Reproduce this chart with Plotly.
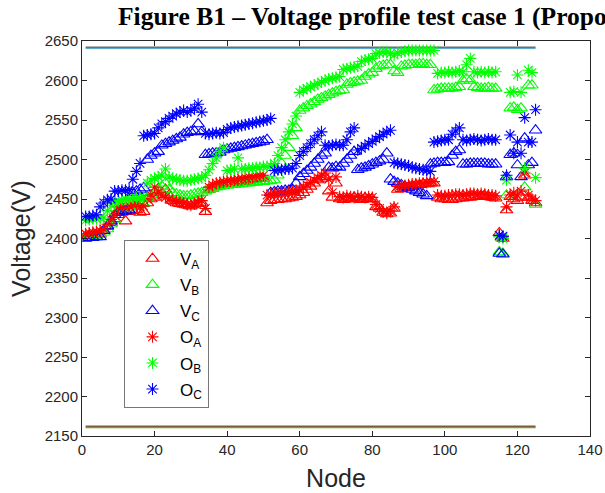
import plotly.graph_objects as go

# ---------------- data ----------------
nodes = list(range(1, 126))

V_A = [2403, 2404, 2405, 2405, 2406, 2410, 2415, 2420, 2425,
       2430, 2433, 2422, 2434, 2435, 2436, 2433, 2434,
       2445, 2450, 2452, 2455, 2458, 2462,
       2455, 2448, 2445, 2444, 2443, 2442, 2441, 2443, 2444, 2445,
       2434,
       2462, 2465, 2466, 2467, 2468, 2469, 2470, 2470, 2471, 2472, 2472, 2473, 2474, 2475, 2476, 2476,
       2445, 2448, 2449, 2449, 2450, 2450, 2451, 2452, 2453, 2455,
       2458, 2462, 2466, 2470, 2474, 2476, 2478,
       2460, 2452, 2470,
       2450, 2449, 2451, 2450, 2452, 2450, 2449, 2451, 2450, 2450,
       2440, 2438, 2433, 2431, 2432, 2438,
       2462, 2463, 2464, 2465, 2466, 2467, 2468, 2469, 2469, 2470, 2470,
       2452, 2450, 2450, 2449, 2449, 2450, 2451, 2451, 2452, 2452, 2453, 2453, 2454, 2454, 2453, 2452, 2451,
       2407, 2400, 2436, 2453, 2450, 2448, 2452, 2480, 2452, 2448, 2445]

O_A = [2406, 2407, 2408, 2409, 2410, 2412, 2418, 2424, 2430,
       2440, 2442, 2438, 2442, 2443, 2444, 2440, 2441,
       2450, 2455, 2465, 2458, 2455, 2452,
       2450, 2448, 2447, 2446, 2445, 2443, 2442, 2444, 2446, 2448,
       2438,
       2465, 2468, 2470, 2471, 2472, 2473, 2474, 2474, 2475, 2476, 2477, 2478, 2478, 2479, 2480, 2480,
       2455, 2456, 2457, 2457, 2458, 2458, 2459, 2460, 2461, 2462,
       2465, 2468, 2471, 2474, 2477, 2480, 2483,
       2475, 2458, 2478,
       2453, 2452, 2454, 2453, 2452, 2454, 2453, 2452, 2453, 2452,
       2443, 2438, 2434, 2432, 2435, 2440,
       2466, 2467, 2467, 2468, 2469, 2469, 2470, 2470, 2471, 2472, 2472,
       2455, 2454, 2454, 2455, 2455, 2456, 2456, 2455, 2456, 2457, 2457, 2456, 2457, 2456, 2455, 2455, 2454,
       2404, 2402, 2440, 2455, 2458, 2455, 2460, 2483, 2455, 2450, 2448]

V_B = [2402, 2403, 2403, 2404, 2405, 2408, 2412, 2418, 2424,
       2436, 2438, 2440, 2440, 2441, 2442, 2443, 2444,
       2452, 2455, 2458, 2462, 2466, 2470,
       2462, 2458, 2456, 2455, 2454, 2454, 2455, 2456, 2457, 2458,
       2460, 2462, 2463, 2465,
       2466, 2467, 2467, 2468, 2468, 2469, 2469, 2470, 2470, 2471, 2471, 2472, 2472, 2473, 2473, 2474,
       2480, 2495, 2505, 2515, 2530, 2540, 2562,
       2565, 2568, 2570, 2573, 2576, 2578, 2580,
       2582, 2584, 2586, 2587, 2588,
       2595, 2597, 2598, 2599, 2600,
       2605, 2608, 2610,
       2615, 2618, 2619, 2620, 2620,
       2612, 2610,
       2618, 2619, 2620, 2620, 2620, 2621, 2621, 2620, 2620,
       2588, 2589, 2590, 2590, 2590, 2590, 2591, 2592, 2600, 2602, 2600, 2592, 2591, 2590, 2590, 2591, 2590, 2590,
       2383, 2381, 2455, 2565, 2566, 2563, 2565, 2465, 2594, 2594, 2443]

O_B = [2423, 2424, 2425, 2425, 2426, 2426, 2435, 2442, 2446,
       2448, 2449, 2450, 2450, 2451, 2451, 2452, 2452,
       2470, 2474, 2476, 2478, 2480, 2488, 2478, 2476, 2475, 2474, 2473, 2473, 2474, 2475, 2476, 2477,
       2480, 2487, 2495, 2502, 2510, 2515,
       2486, 2487, 2488, 2502, 2488, 2488, 2489, 2489, 2490, 2490, 2491, 2491, 2492,
       2495, 2505, 2515, 2525, 2535, 2545, 2555, 2585,
       2588, 2590, 2592, 2594, 2596, 2598, 2600,
       2602, 2603, 2604, 2605,
       2614, 2615, 2616, 2617, 2618,
       2624, 2626, 2627, 2628,
       2634, 2635, 2636, 2636, 2634, 2632, 2635, 2636,
       2637, 2638, 2638, 2638, 2638, 2638, 2638, 2638, 2638,
       2609, 2610, 2610, 2611, 2610, 2611, 2612, 2611, 2620, 2628, 2611, 2610, 2611, 2610, 2611, 2610, 2611,
       2402, 2400, 2474, 2585, 2586, 2607, 2585, 2489, 2613, 2610, 2477]

V_C = [2400, 2401, 2401, 2402, 2402, 2410, 2416, 2422, 2430,
       2433, 2434, 2435, 2436, 2458, 2460, 2462, 2464,
       2500, 2505, 2508, 2510,
       2518, 2520, 2522, 2524, 2526, 2528,
       2532, 2534, 2535, 2536, 2545, 2535,
       2506, 2507, 2508, 2508, 2509,
       2512, 2513, 2514, 2515, 2516, 2517, 2518, 2519, 2520, 2521, 2522, 2523, 2525,
       2458, 2459, 2460, 2460, 2461, 2461, 2462, 2470, 2478,
       2482, 2486, 2490, 2495, 2500, 2505, 2508,
       2490, 2489, 2491, 2490, 2495, 2500, 2505, 2510,
       2487, 2489, 2490, 2492, 2494, 2496, 2498, 2500, 2508,
       2475, 2472, 2470, 2468, 2466, 2464, 2462, 2460, 2458, 2456, 2454,
       2494, 2495, 2496, 2496, 2496, 2497,
       2505, 2510, 2512,
       2494, 2494, 2495, 2495, 2495, 2495, 2495, 2494, 2494, 2494,
       2381, 2380, 2478, 2506, 2508, 2493, 2478, 2527, 2493, 2496, 2537]

O_C = [2428, 2428, 2429, 2430, 2440, 2445, 2449, 2450,
       2460, 2460, 2461, 2461, 2462, 2475, 2485, 2495, 2530,
       2531, 2532, 2533,
       2540, 2545, 2548, 2552, 2555, 2558, 2560, 2562, 2560, 2562, 2565, 2570, 2560,
       2533, 2532, 2533, 2534, 2533, 2534,
       2538, 2540, 2541, 2542, 2543, 2544, 2545, 2546, 2547, 2548, 2549, 2550, 2552,
       2486, 2487, 2487, 2488, 2488, 2489, 2495, 2505,
       2510, 2515, 2520, 2525, 2530, 2535,
       2518, 2517, 2518, 2519, 2518, 2518, 2525, 2535, 2540,
       2512, 2514, 2517, 2520, 2523, 2526, 2529, 2532, 2535, 2537,
       2496, 2495, 2494, 2493, 2492, 2490, 2489, 2488, 2487, 2486, 2485,
       2522, 2523, 2524, 2525, 2525,
       2532, 2536, 2540,
       2525, 2524, 2525, 2526, 2525, 2524, 2525, 2526, 2525, 2525,
       2404, 2403, 2480, 2531, 2508, 2522, 2508, 2553, 2522, 2522, 2563]

limit_x = [1, 125]
upper_limit = [2642, 2642]
lower_limit = [2162, 2162]

series_names = ["V<sub>A</sub>", "V<sub>B</sub>", "V<sub>C</sub>",
                "O<sub>A</sub>", "O<sub>B</sub>", "O<sub>C</sub>"]
series_values = [V_A, V_B, V_C, O_A, O_B, O_C]
colors = ["#ff0000", "#00ff00", "#0000ff", "#ff0000", "#00ff00", "#0000ff"]
symbols = ["triangle-up-open"] * 3 + ["asterisk-open"] * 3

# ---------------- figure ----------------
fig = go.Figure()

# voltage limit lines (drawn first, behind markers)
fig.add_trace(go.Scatter(x=limit_x, y=[v - 1.6 for v in upper_limit], mode="lines",
                         line=dict(color="#4DBEEE", width=1.0), showlegend=False, hoverinfo="skip"))
fig.add_trace(go.Scatter(x=limit_x, y=upper_limit, mode="lines",
                         line=dict(color="#6e6e6e", width=1.8), showlegend=False, hoverinfo="skip"))
fig.add_trace(go.Scatter(x=limit_x, y=[v - 1.6 for v in lower_limit], mode="lines",
                         line=dict(color="#77AC30", width=1.0), showlegend=False, hoverinfo="skip"))
fig.add_trace(go.Scatter(x=limit_x, y=lower_limit, mode="lines",
                         line=dict(color="#7E5A3C", width=1.8), showlegend=False, hoverinfo="skip"))

for i, (name, vals, col, sym) in enumerate(zip(series_names, series_values, colors, symbols)):
    fig.add_trace(go.Scatter(
        x=nodes, y=vals, mode="markers", name=name, legendgroup=f"g{i}",
        marker=dict(symbol=sym, size=11 if "triangle" in sym else 10,
                    color=col, line=dict(color=col, width=1.1))))

axis_common = dict(showline=True, linecolor="#262626", linewidth=1, mirror="ticks",
                   ticks="inside", ticklen=5, tickcolor="#262626",
                   tickfont=dict(family="Liberation Sans, Arial", size=15, color="#262626"),
                   showgrid=False, zeroline=False)

fig.update_xaxes(range=[0, 140], dtick=20, tick0=0,
                 title=dict(text="Node", font=dict(family="Liberation Sans, Arial", size=25, color="#262626"),
                            standoff=12),
                 **axis_common)
fig.update_yaxes(range=[2150, 2650], dtick=50, tick0=2150,
                 title=dict(text="Voltage(V)", font=dict(family="Liberation Sans, Arial", size=25, color="#262626"),
                            standoff=6),
                 **axis_common)

fig.update_layout(
    width=605, height=493,
    margin=dict(l=82, r=15, t=41, b=57, autoexpand=False),
    paper_bgcolor="white", plot_bgcolor="white",
    title=dict(text="Figure B1 – Voltage profile test case 1 (Proposed method)",
               font=dict(family="Liberation Serif, Times New Roman", size=25.5, color="black", weight="bold"),
               x=(118 - 82) / 508, xanchor="left", xref="paper", y=0.985, yanchor="top"),
    legend=dict(x=(124 - 82) / 508, y=(436 - 240) / 395, xanchor="left", yanchor="top",
                bgcolor="white", bordercolor="#777777", borderwidth=1,
                font=dict(family="Liberation Sans, Arial", size=17, color="black"),
                itemwidth=45, tracegroupgap=1),
    showlegend=True,
)

fig.write_html("out.html")
